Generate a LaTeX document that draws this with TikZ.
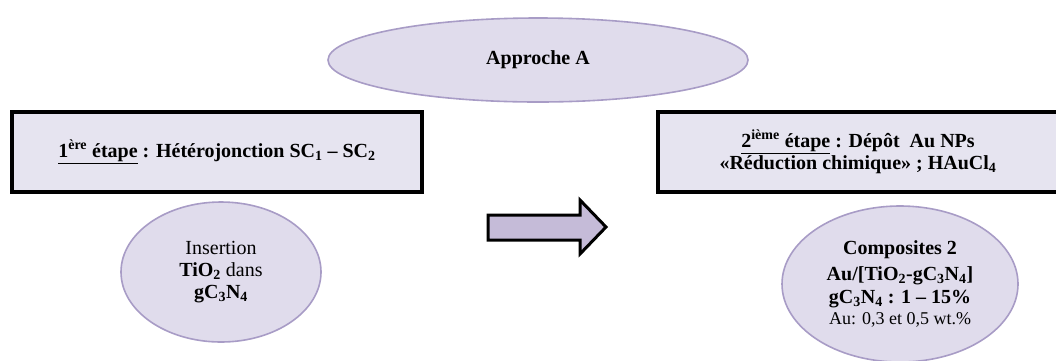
\documentclass[tikz,border=0pt]{standalone}
\usepackage{fontspec}
\setmainfont{Liberation Serif}
\usepackage{xcolor}
\usetikzlibrary{shapes.geometric}
\definecolor{lilasfond}{RGB}{224,220,236}
\definecolor{lilasbord}{RGB}{168,156,198}
\definecolor{boxfond}{RGB}{230,228,240}
\definecolor{flechefond}{RGB}{197,187,216}

\begin{document}
\begin{tikzpicture}[x=1pt, y=-1pt,
    bulle/.style={ellipse, draw=lilasbord, fill=lilasfond, line width=1.6pt, inner sep=0pt, align=center},
    etape/.style={rectangle, draw=black, fill=boxfond, line width=3.2pt, align=center, minimum height=80pt},
    every node/.style={font=\fontsize{20}{22}\selectfont}]
  \useasboundingbox (0,0) rectangle (1056,360);

  % approche
  \node[bulle, minimum width=420pt, minimum height=84pt] (approche) at (538,60) {\bfseries Approche A};

  % les deux etapes
  \node[etape, minimum width=410pt] (etape1) at (217,152)
    {\bfseries\underline{1\textsuperscript{ère} étape}~: Hétérojonction SC\textsubscript{1} – SC\textsubscript{2}};
  \node[etape, minimum width=400pt] (etape2) at (858,152)
    {\bfseries\underline{2\textsuperscript{ième} étape}~: Dépôt~ Au NPs\\
     \bfseries «Réduction chimique» ; HAuCl\textsubscript{4}};

  % resultats
  \node[bulle, minimum width=200pt, minimum height=140pt] (insertion) at (221,272)
    {Insertion\\ \textbf{TiO\textsubscript{2}} dans\\ \textbf{gC\textsubscript{3}N\textsubscript{4}}};
  \node[bulle, minimum width=236pt, minimum height=156pt] (composites) at (900,284)
    {\bfseries Composites 2\\[4pt]
     \bfseries Au/[TiO\textsubscript{2}-gC\textsubscript{3}N\textsubscript{4}]\\[1pt]
     \bfseries gC\textsubscript{3}N\textsubscript{4} : 1 – 15\%\\[-1pt]
     {\fontsize{18}{20}\selectfont Au: 0,3 et 0,5 wt.\%}};

  % fleche
  \draw[line width=3pt, line join=miter, fill=flechefond]
    (488,215) -- (580,215) -- (580,200) -- (606,227) -- (580,254) -- (580,240) -- (488,240) -- cycle;
\end{tikzpicture}
\end{document}
